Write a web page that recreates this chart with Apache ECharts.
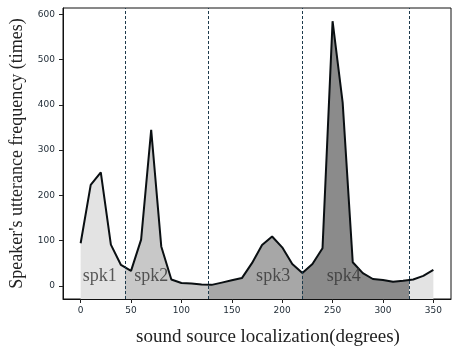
<!DOCTYPE html>
<html>
<head>
<meta charset="utf-8">
<script src="https://cdn.jsdelivr.net/npm/echarts@6/dist/echarts.min.js"></script>
<style>
  html, body { margin: 0; padding: 0; background: #fff; }
  #chart { width: 456px; height: 352px; }
</style>
</head>
<body>
<div id="chart"></div>
<script>
// sound source angle (degrees) and utterance counts
var angles = [0, 10, 20, 30, 40, 50, 60, 70, 80, 90, 100, 110, 120, 130, 140, 150, 160, 170,
  180, 190, 200, 210, 220, 230, 240, 250, 260, 270, 280, 290, 300, 310, 320, 330, 340, 350];
var counts = [94, 223, 251, 91, 46, 33, 102, 345, 87, 14, 6, 5, 3, 2, 7, 12, 17, 50,
  90, 109, 85, 48, 28, 48, 83, 585, 405, 52, 28, 15, 13, 9, 11, 14, 22, 35];

// speaker boundaries (dashed lines)
var boundaries = [44, 127, 220, 326];

// speaker labels
var speakerNames = ['spk1', 'spk2', 'spk3', 'spk4'];
var speakerX = [19, 70, 191, 261];
var speakerY = [20, 20, 20, 20];

// tick labels
var xTicks = [0, 50, 100, 150, 200, 250, 300, 350];
var yTicks = [0, 100, 200, 300, 400, 500, 600];

var chartDom = document.getElementById('chart');
var myChart = echarts.init(chartDom);
var option;

var lineData = angles.map(function (a, i) { return [a, counts[i]]; });
var labelData = speakerNames.map(function (n, i) { return { name: n, value: [speakerX[i], speakerY[i]] }; });

option = {
  animation: false,
  grid: {
    left: 60, top: 8, right: 5, bottom: 53,
    show: true, borderColor: '#111', borderWidth: 1
  },
  visualMap: {
    show: false,
    type: 'piecewise',
    dimension: 0,
    seriesIndex: 0,
    pieces: [
      { lt: boundaries[0], color: '#e3e3e3' },
      { gte: boundaries[0], lt: boundaries[1], color: '#c8c8c8' },
      { gte: boundaries[1], lt: boundaries[2], color: '#a7a7a7' },
      { gte: boundaries[2], lt: boundaries[3], color: '#8b8b8b' },
      { gte: boundaries[3], color: '#e3e3e3' }
    ]
  },
  xAxis: {
    type: 'value',
    min: -17.5,
    max: 367.5,
    name: 'sound source localization(degrees)',
    nameLocation: 'middle',
    nameGap: 29,
    nameTextStyle: { fontFamily: 'Liberation Serif', fontSize: 19, color: '#222', padding: [0, 0, 0, 22] },
    splitLine: { show: false },
    axisLine: { show: true, onZero: false, lineStyle: { color: '#111' } },
    axisTick: { show: true, customValues: xTicks, length: 4, lineStyle: { color: '#222' } },
    axisLabel: { customValues: xTicks, fontFamily: 'DejaVu Sans', fontSize: 9, color: '#1c2833', margin: 7 }
  },
  yAxis: {
    type: 'value',
    min: -29.25,
    max: 614.25,
    name: "Speaker's utterance frequency (times)",
    nameLocation: 'middle',
    nameGap: 37,
    nameTextStyle: { fontFamily: 'Liberation Serif', fontSize: 18, color: '#222' },
    splitLine: { show: false },
    axisLine: { show: true, onZero: false, lineStyle: { color: '#111' } },
    axisTick: { show: true, customValues: yTicks, length: 4, lineStyle: { color: '#222' } },
    axisLabel: { customValues: yTicks, fontFamily: 'DejaVu Sans', fontSize: 9, color: '#1c2833', margin: 8 }
  },
  series: [
    {
      // shaded area per speaker region
      type: 'line',
      data: lineData,
      symbol: 'none',
      lineStyle: { width: 0 },
      areaStyle: { opacity: 1, origin: 'start' },
      z: 1
    },
    {
      type: 'line',
      data: lineData,
      symbol: 'none',
      lineStyle: { color: '#0a0f12', width: 2 },
      z: 3,
      markLine: {
        silent: true,
        symbol: 'none',
        label: { show: false },
        lineStyle: { color: '#1d3a4c', type: [3, 2], width: 1 },
        data: boundaries.map(function (b) { return { xAxis: b }; })
      }
    },
    {
      type: 'scatter',
      data: labelData,
      symbolSize: 1,
      itemStyle: { color: 'rgba(0,0,0,0)' },
      label: {
        show: true,
        position: 'inside',
        formatter: '{b}',
        fontFamily: 'Liberation Serif',
        fontSize: 18,
        color: '#333'
      },
      z: 4
    }
  ]
};

option && myChart.setOption(option);
</script>
</body>
</html>
